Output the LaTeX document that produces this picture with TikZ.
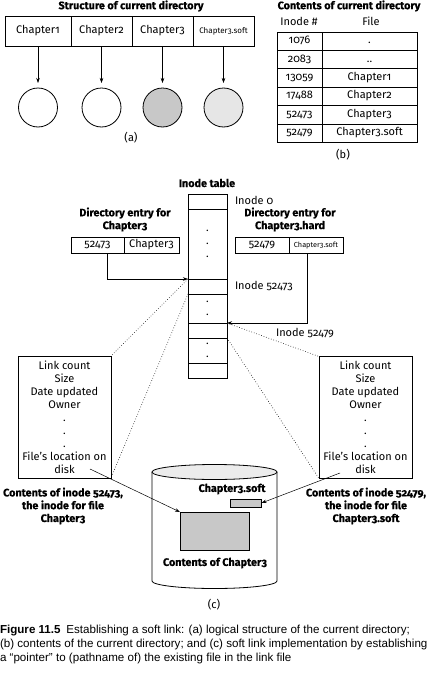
\documentclass[tikz,border=0pt]{standalone}
\usepackage{fontspec}
\setmainfont{Fira Sans}[Numbers=OldStyle, BoldFeatures={FakeBold=0.5}]
\newfontfamily\capfont{Liberation Sans}
\usepackage{xcolor}
\usetikzlibrary{positioning, arrows.meta}
\definecolor{fillmid}{HTML}{C8C8C8}
\definecolor{filllight}{HTML}{E6E6E6}
\definecolor{filltop}{HTML}{ECECEC}

\tikzset{
  box/.style={draw, line width=0.8pt, inner sep=0pt, text height=7.5pt, text depth=2.5pt, font=\fontsize{11}{13}\selectfont},
  txt/.style={inner sep=0pt, font=\fontsize{11}{13}\selectfont},
  ttl/.style={inner sep=0pt, align=center, font=\bfseries\fontsize{10.8}{12.8}\selectfont},
  arr/.style={line width=0.5pt, -{Stealth[length=5pt, width=3.5pt]}},
  zoomline/.style={dotted, line width=0.6pt}
}

\begin{document}
\begin{tikzpicture}[x=1pt, y=-1pt, node distance=0pt, outer sep=0pt]
    \useasboundingbox (0,0) rectangle (429,680);

    % Struktur
    \node[ttl] (titleA) at (131,6) {Structure of current directory};
    \node[box, minimum width=66pt, minimum height=30pt] (ch1) at (38,31) {Chapter1};
    \node[box, minimum width=61pt, minimum height=30pt, right=of ch1] (ch2) {Chapter2};
    \node[box, minimum width=61pt, minimum height=30pt, right=of ch2] (ch3) {Chapter3};
    \node[box, minimum width=61pt, minimum height=30pt, font=\fontsize{8}{9}\selectfont, right=of ch3] (ch3s) {Chapter3.soft};
    \node[circle, draw, line width=0.8pt, minimum size=39pt, inner sep=0pt, below=42pt of ch1] (file1) {};
    \node[circle, draw, line width=0.8pt, minimum size=39pt, inner sep=0pt, below=42pt of ch2] (file2) {};
    \node[circle, draw, line width=0.8pt, minimum size=39pt, inner sep=0pt, fill=fillmid, below=42pt of ch3] (file3) {};
    \node[circle, draw, line width=0.8pt, minimum size=39pt, inner sep=0pt, fill=filllight, below=42pt of ch3s] (file3s) {};
    \draw[arr, shorten >=5pt] (ch1) -- (file1);
    \draw[arr, shorten >=5pt] (ch2) -- (file2);
    \draw[arr, shorten >=5pt] (ch3) -- (file3);
    \draw[arr, shorten >=5pt] (ch3s) -- (file3s);
    \node[txt] (subA) at (131,138) {(a)};

    % Verzeichnisinhalt
    \node[ttl] (titleB) at (349,6) {Contents of current directory};
    \node[txt] (headInode) at (299,21) {Inode \#};
    \node[txt] (headFile) at (371,21) {File};
    \node[box, minimum width=45pt, minimum height=18.4pt] (ino1) at (299.5,41.2) {1076};
    \node[box, minimum width=95pt, minimum height=18.4pt, right=of ino1] (name1) {.};
    \node[box, minimum width=45pt, minimum height=18.4pt, below=of ino1] (ino2) {2083};
    \node[box, minimum width=95pt, minimum height=18.4pt, right=of ino2] (name2) {..};
    \node[box, minimum width=45pt, minimum height=18.4pt, below=of ino2] (ino3) {13059};
    \node[box, minimum width=95pt, minimum height=18.4pt, right=of ino3] (name3) {Chapter1};
    \node[box, minimum width=45pt, minimum height=18.4pt, below=of ino3] (ino4) {17488};
    \node[box, minimum width=95pt, minimum height=18.4pt, right=of ino4] (name4) {Chapter2};
    \node[box, minimum width=45pt, minimum height=18.4pt, below=of ino4] (ino5) {52473};
    \node[box, minimum width=95pt, minimum height=18.4pt, right=of ino5] (name5) {Chapter3};
    \node[box, minimum width=45pt, minimum height=18.4pt, below=of ino5] (ino6) {52479};
    \node[box, minimum width=95pt, minimum height=18.4pt, right=of ino6] (name6) {Chapter3.soft};
    \node[txt] (subB) at (343,155) {(b)};

    % Inode-Tabelle
    \node[ttl] (titleIT) at (207,183) {Inode table};
    \node[draw, line width=0.8pt, minimum width=39pt, minimum height=15pt, inner sep=0pt] (it0) at (207.5,201.5) {};
    \node[draw, line width=0.8pt, minimum width=39pt, minimum height=70pt, inner sep=0pt, align=center, font=\fontsize{11}{13}\selectfont, below=of it0] (itdots1) {.\\.\\.};
    \node[draw, line width=0.8pt, minimum width=39pt, minimum height=15pt, inner sep=0pt, below=of itdots1] (it52473) {};
    \node[draw, line width=0.8pt, minimum width=39pt, minimum height=29pt, inner sep=0pt, align=center, font=\fontsize{11}{13}\selectfont, below=of it52473] (itdots2) {.\\.};
    \node[draw, line width=0.8pt, minimum width=39pt, minimum height=15pt, inner sep=0pt, below=of itdots2] (it52479) {};
    \node[draw, line width=0.8pt, minimum width=39pt, minimum height=25pt, inner sep=0pt, align=center, font=\fontsize{11}{13}\selectfont, below=of it52479] (itdots3) {.\\.};
    \node[draw, line width=0.8pt, minimum width=39pt, minimum height=15pt, inner sep=0pt, below=of itdots3] (itlast) {};
    \node[txt, anchor=west] (lblIno0) at (235,200) {Inode 0};
    \node[txt, anchor=west] (lblIno52473) at (235,286) {Inode 52473};
    \node[txt] (lblIno52479) at (305,333) {Inode 52479};

    % Verzeichniseintraege
    \node[ttl] (titleE1) at (125,219.5) {Directory entry for\\Chapter3};
    \node[box, minimum width=53pt, minimum height=16pt] (e1num) at (97.5,245) {52473};
    \node[box, minimum width=55pt, minimum height=16pt, right=of e1num] (e1name) {Chapter3};
    \node[ttl] (titleE2) at (290,219.5) {Directory entry for\\Chapter3.hard};
    \node[box, minimum width=54pt, minimum height=16pt] (e2num) at (262,245) {52479};
    \node[box, minimum width=54pt, minimum height=16pt, font=\fontsize{7.3}{8}\selectfont, right=of e2num] (e2name) {Chapter3.soft};
    \draw[arr] ([xshift=9.5pt]e1num.south) |- (it52473.north west);
    \draw[arr] ([xshift=-9pt]e2name.south) |- (it52479.north east);

    % Inodes
    \node[draw, line width=0.8pt, inner sep=0pt, align=center, minimum width=93pt, minimum height=122pt, font=\fontsize{11}{13}\selectfont] (inodeL) at (64.5,417) {Link count\\Size\\Date updated\\Owner\\.\\.\\.\\File’s location on\\disk};
    \node[draw, line width=0.8pt, inner sep=0pt, align=center, minimum width=93pt, minimum height=122pt, font=\fontsize{11}{13}\selectfont] (inodeR) at (365.5,417.5) {Link count\\Size\\Date updated\\Owner\\.\\.\\.\\File’s location on\\disk};
    \draw[zoomline] (it52473.north west) -- (inodeL.north east);
    \draw[zoomline] (it52473.south west) -- (inodeL.south east);
    \draw[zoomline] (it52479.north east) -- (inodeR.north west);
    \draw[zoomline] (it52479.south east) -- (inodeR.south west);
    \node[ttl] (capL) at (63,506) {Contents of inode 52473,\\the inode for file\\Chapter3};
    \node[ttl] (capR) at (366,506) {Contents of inode 52479,\\the inode for file\\Chapter3.soft};

    % Platte
    \draw[line width=0.8pt, fill=white] (152,472) -- (152,581) arc[start angle=180, end angle=360, x radius=62.5pt, y radius=7.5pt] -- (277,472);
    \draw[line width=0.8pt, fill=filltop] (214.5,472) ellipse[x radius=62.5pt, y radius=7.5pt];
    \node[ttl] (softLbl) at (232,489) {Chapter3.soft};
    \node[draw, line width=0.8pt, fill=fillmid, minimum width=31pt, minimum height=8pt, inner sep=0pt] (softData) at (246,503) {};
    \node[draw, line width=0.8pt, fill=fillmid, minimum width=69pt, minimum height=38pt, inner sep=0pt] (ch3Data) at (214.5,531) {};
    \node[ttl] (dataLbl) at (215,563) {Contents of Chapter3};
    \coordinate (ptrL) at (90,469);
    \coordinate (ptrR) at (340,473);
    \draw[arr] (ptrL) -- (ch3Data.north west);
    \draw[arr] (ptrR) -- (softData.east);
    \node[txt] (subC) at (214,605) {(c)};

    % Bildunterschrift
    \node[anchor=north west, inner sep=0pt, align=left, font=\capfont\fontsize{11.6}{14}\selectfont] (caption) at (0,625) {\textbf{Figure 11.5}\enspace Establishing a soft link: (a) logical structure of the current directory;\\(b) contents of the current directory; and (c) soft link implementation by establishing\\a “pointer” to (pathname of) the existing file in the link file};
\end{tikzpicture}
\end{document}
